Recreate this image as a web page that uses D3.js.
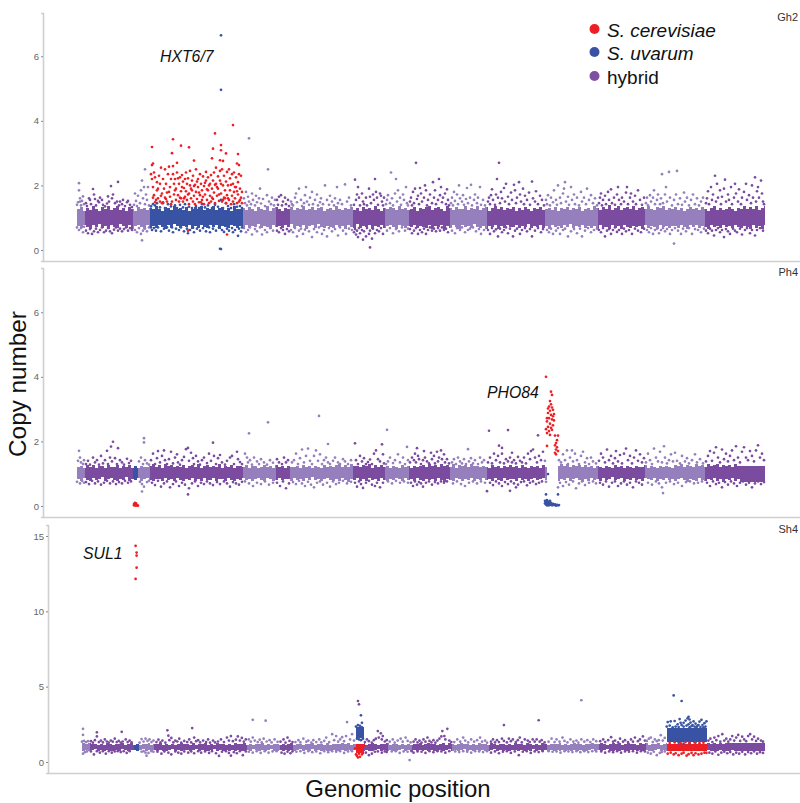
<!DOCTYPE html>
<html><head><meta charset="utf-8">
<script src="https://cdn.jsdelivr.net/npm/d3@7"></script>
<style>html,body{margin:0;padding:0;background:#fff}svg{display:block;font-family:"Liberation Sans",Arial,sans-serif}</style>
</head><body><svg id="c" width="800" height="803"></svg>
<script>
// Genomic position is in bins along the concatenated chromosomes; copy number is the value.
const chromStarts=[0,8,56,73,166,199,213,276,308,332,373,410,468,521,568,628];
const yTicksA=[0,2,4,6], yTicksC=[0,5,10,15];
const panelNames=["Gh2","Ph4","Sh4"];
const geneLabels=["HXT6/7","PHO84","SUL1"];
const legendLabels=["S. cerevisiae","S. uvarum","hybrid"];
// Estimated edges of the unresolvable dense core, copy number x100, one value per 3 bins
const gh2Hi=[128,134,122,130,125,136,127,121,132,126,135,123,129,137,124,131,120,133,127,122,134,126,130,123,
131,126,135,128,122,133,129,124,136,127,130,125,134,121,128,132,126,137,123,130,127,135,124,129,133,125,131,122,136,128,126,
130,123,134,127,121,132,128,125,135,122,129,133,126,120,131,127,134,124,130,126,136,123,128,132,125,129,134,122,127,131,124,
135,128,123,130,126,133,125,129,121,134,127,131,124,136,128,122,130,126,133,129,123,135,127,131,125,128,134,122,130,126,
132,137,125,129,134,127,122,136,130,124,133,128,126,135,123,131,127,137,125,130,133,122,129,135,126,132,124,130,127,134,
121,129,125,133,127,122,131,126,134,123,128,130,125,132,121,129,127,134,124,130,126,133,122,128,131,125,
136,129,124,133,127,138,125,131,135,123,129,134,127,137,124,130,132,126,135,128,123,133,129,136,125,131,127,134,
125,131,122,128,134,126,130,123,132,127,121,129,135,125,131,123,128,133,126,122,130,127,
137,126,132,128,135,124,130,136,127,133,125,131,138,126,129,134,127,132,124,136];
const gh2Lo=[74,68,78,72,66,76,70,82,68,74,64,78,71,67,80,73,69,76,66,74,79,70,65,77,
70,74,68,78,72,66,76,69,80,73,67,75,71,78,65,74,69,77,72,68,76,70,79,66,74,71,67,78,73,69,75,
70,78,67,74,71,80,68,75,72,66,78,70,74,68,76,72,81,67,74,70,78,66,73,76,69,80,71,68,75,72,
67,78,70,74,66,77,72,69,80,68,75,71,78,66,73,70,76,68,74,79,71,66,77,73,69,75,70,78,67,74,
71,68,76,66,74,70,78,65,73,69,76,72,66,78,70,74,67,80,71,68,75,66,73,70,77,65,74,69,76,72,
70,78,67,74,71,80,68,75,72,77,69,74,66,78,71,73,68,76,70,80,67,74,72,78,69,75,
68,74,65,78,70,72,66,76,69,74,64,78,71,67,75,70,73,66,77,69,74,71,65,78,70,73,67,75,
74,68,78,71,66,76,70,79,68,74,72,66,78,70,73,67,76,71,74,68,78,70,
67,74,70,65,78,69,73,66,76,71,68,74,64,78,70,73,66,76,69,72];
const ph4Hi=[120,124,118,126,121,127,119,123,125,118,128,122,120,126,117,124,121,127,119,123,118,125,122,120,
124,129,121,126,118,130,123,127,120,125,122,128,119,124,126,121,129,118,123,127,120,125,122,131,119,124,121,127,118,125,123,
120,126,119,123,125,117,122,127,120,124,118,126,121,123,119,125,122,120,124,117,126,121,123,119,125,122,118,127,120,124,121,
126,130,122,127,120,129,124,125,121,128,123,131,119,126,122,128,120,124,118,125,122,119,126,121,123,118,125,120,124,
128,121,131,124,126,120,129,123,127,122,130,119,126,124,128,121,130,123,125,120,124,122,118,126,121,125,119,123,122,127,
120,124,118,126,122,119,125,121,123,118,126,120,124,122,130,125,129,123,131,121,127,124,128,122,126,120,
123,118,125,121,119,124,122,118,126,120,123,119,125,121,118,124,122,120,126,119,123,121,118,125,120,124,122,119,
127,123,129,121,128,125,122,130,124,127,120,129,123,126,131,122,128,124,127,121,130,125];
const ph4Lo=[84,78,88,82,76,86,80,84,90,79,83,87,81,77,85,82,89,78,84,80,86,79,83,88,
81,77,85,83,79,87,80,84,76,88,82,78,85,81,87,79,84,77,86,82,80,88,78,83,85,79,87,81,76,84,82,
88,80,85,78,83,87,81,79,86,84,77,82,88,80,85,83,79,87,81,84,78,86,82,89,80,85,78,83,87,81,
79,84,77,86,82,75,85,80,88,78,83,76,86,81,84,79,87,82,77,85,80,88,83,79,86,81,84,78,87,82,
76,85,80,84,78,87,82,75,85,81,79,86,83,77,84,80,88,78,85,82,88,80,84,79,86,82,78,87,81,85,
83,78,87,81,85,79,84,88,80,83,86,81,78,85,82,76,84,80,87,78,83,86,81,75,84,79,
88,82,85,79,87,81,84,89,80,83,86,78,85,82,88,80,84,79,87,83,81,86,78,85,82,88,80,84,
77,83,86,80,75,85,81,78,86,82,76,84,80,87,79,83,75,85,81,86,78,84];
const sh4Hi=[128,122,125,118,122,116,120,114,124,118,115,121,117,125,113,119,123,116,120,114,122,118,126,115,
121,117,124,113,119,116,122,114,120,125,117,119,115,123,113,121,118,126,114,120,116,124,117,119,113,122,115,127,118,120,125,
116,122,113,119,117,124,115,120,114,122,118,113,121,116,119,124,114,120,117,113,122,118,125,115,119,121,116,123,114,120,117,
122,126,118,124,115,121,128,117,123,116,120,125,119,114,122,117,124,115,121,118,113,120,116,122,114,119,117,123,115,
121,125,117,122,114,120,127,116,123,118,115,121,124,117,119,114,122,116,125,118,120,115,123,117,114,121,119,116,122,113,
124,117,120,115,123,118,114,121,116,125,119,115,122,117,120,124,116,121,114,119,126,117,122,115,120,118,
123,117,121,126,119,115,122,128,118,124,116,120,125,117,122,115,127,119,123,116,121,118,126,115,120,124,117,122,
119,125,121,128,116,123,119,126,118,122,116,127,120,124,117,123,119,125];
const sh4Lo=[74,80,72,78,84,76,80,74,82,76,72,80,75,83,78,74,81,77,72,79,84,75,80,73,
78,74,82,76,72,80,85,75,79,73,81,77,72,78,84,74,80,76,71,79,83,75,77,72,81,74,78,70,82,76,73,
80,75,83,77,72,81,74,78,84,76,71,79,73,82,75,80,72,78,84,74,80,76,83,72,78,74,81,76,71,79,75,
70,78,72,82,75,80,68,77,73,81,75,70,78,84,72,79,74,80,76,72,78,83,74,80,76,82,72,78,75,
79,74,82,70,76,80,72,78,84,74,79,71,77,83,75,80,72,78,74,81,76,72,79,84,73,78,75,81,72,77,
82,75,79,73,81,76,84,74,78,72,80,76,82,73,79,70,77,74,80,71,78,74,82,72,76,79,
84,74,80,72,78,83,75,70,79,73,81,76,71,78,82,74,79,72,80,75,70,77,83,73,79,75,81,72,
78,72,76,70,80,74,72,78,70,76,73,80,71,75,70,78,73,76,71,79,74,72];
// Rows of the core: start bin, end bin, strain, and own copy-number range where the strain block is not on the shared edges
const gh2Rows=[[0,73,"h"],[73,166,"b"],[166,688,"h"]];
const ph4Rows=[[0,56,"h"],[56,61,"b"],[61,470,"h"],[481,688,"h"]];
const sh4Rows=[[0,52,"h"],[52,57,"b"],[57,276,"h"],[276,284,"b",1.62,2.3],[276,284,"r",.62,1.2],[284,589,"h"],[589,630,"b",1.32,2.25],[589,630,"r",.7,1.22],[630,688,"h"]];
const gh2Hybrid=[[0,1.4],[1,1.48],[2,2.07],[2,1.85],[3,1.6],[3,1.5],[4,1.38],[5,1.52],[6,1.66],[7,1.42],[0,.7],[2,.62],[4,.68],[6,.55],[7,.72],
[9,1.45],[10,1.36],[12,1.6],[13,1.55],[14,1.42],[16,1.89],[17,1.72],[18,1.58],[19,1.38],[21,1.52],[22,1.48],[23,1.62],[25,1.55],[26,1.4],[28,1.35],[30,1.44],[31,1.66],[32,1.5],[34,1.98],[35,1.6],[36,1.72],[38,1.45],[40,1.5],[41,2.11],[42,1.38],[43,1.5],[45,1.42],[46,1.55],[48,1.36],[50,1.48],[51,1.52],[53,1.4],[55,1.33],
[9,.6],[11,.52],[13,.65],[15,.5],[17,.58],[19,.66],[21,.55],[23,.62],[25,.7],[27,.55],[29,.6],[31,.68],[33,.58],[35,.52],[37,.63],[39,.7],[41,.6],[43,.66],[45,.58],[47,.65],[49,.7],[51,.6],[53,.68],[55,.62],
[57,1.4],[58,1.75],[59,1.52],[60,1.36],[61,1.68],[63,1.45],[64,1.85],[65,2.15],[66,1.6],[67,1.95],[68,2.5],[68,1.42],[69,1.72],[70,1.55],[71,1.95],[72,1.38],[58,.62],[60,.55],[62,.68],[64,.5],[65,.3],[66,.6],[68,.66],[70,.58],[72,.7],
[172,3.46],[167,1.6],[168,1.45],[169,1.8],[170,1.38],[171,1.65],[172,1.5],[174,1.42],[175,1.75],[176,1.55],[178,1.38],[179,1.68],[180,1.48],[182,1.6],[183,1.9],[184,1.44],[186,1.58],[188,1.36],[190,1.7],[191,2.5],[192,1.5],[194,1.42],[195,1.62],[197,1.38],[198,1.55],
[167,.68],[169,.55],[171,.62],[173,.7],[175,.48],[178,.65],[180,.58],[183,.7],[185,.48],[188,.62],[190,.55],[193,.68],[196,.6],
[200,1.55],[201,1.4],[202,1.65],[204,1.7],[205,1.38],[206,1.5],[208,1.62],[209,1.42],[211,1.55],[212,1.36],[200,.6],[202,.55],[204,.68],[206,.62],[208,.5],[210,.65],[212,.58],
[214,1.5],[215,1.42],[216,1.38],[218,1.62],[219,1.75],[220,1.48],[222,1.9],[224,1.55],[225,1.36],[227,1.45],[228,1.7],[229,1.95],[230,1.5],[232,1.4],[233,1.62],[235,1.8],[236,1.42],[238,1.55],[240,1.72],[241,1.38],[243,1.48],[244,1.6],[246,1.42],[248,2],[250,1.55],[252,1.4],[253,1.68],[255,1.5],[257,1.38],[258,1.6],[260,1.95],[261,1.45],[263,1.55],[265,1.42],[268,2.03],[270,1.5],[272,1.62],[274,1.38],
[214,.62],[216,.55],[218,.68],[220,.42],[222,.6],[224,.66],[226,.5],[228,.63],[230,.7],[232,.58],[235,.4],[237,.65],[240,.55],[242,.7],[245,.5],[247,.62],[250,.42],[252,.68],[255,.58],[258,.65],[261,.45],[263,.7],[266,.6],[269,.5],[272,.66],[275,.62],
[277,1.4],[278,2.18],[279,1.55],[280,1.72],[281,1.95],[282,1.62],[283,1.38],[285,1.75],[286,1.5],[287,1.42],[289,1.62],[290,1.38],[292,1.9],[293,1.65],[294,1.45],[296,1.72],[297,1.55],[298,2.2],[299,1.8],[300,1.62],[301,1.4],[303,1.75],[304,1.68],[305,1.5],[306,1.38],[307,1.62],
[277,.55],[278,.65],[279,.48],[280,.6],[281,.4],[282,.68],[283,.52],[285,.62],[286,.32],[287,.58],[289,.42],[290,.68],[292,.5],[293,.6],[293,.08],[295,.35],[296,.66],[298,.52],[300,.62],[302,.58],[304,.68],[306,.5],
[309,1.42],[310,1.55],[311,1.7],[313,1.45],[314,2.4],[315,1.6],[316,1.38],[318,1.75],[319,2.2],[320,1.5],[321,1.85],[323,1.62],[324,1.4],[326,1.72],[327,1.55],[329,1.95],[330,1.45],[331,1.38],[310,.6],[313,.68],[316,.52],[319,.65],[322,.58],[325,.7],[328,.6],[331,.66],
[333,1.5],[334,1.62],[335,1.38],[336,1.8],[337,1.45],[338,1.9],[339,2.7],[340,1.58],[341,1.68],[342,1.42],[343,1.92],[344,1.75],[345,1.5],[347,1.62],[348,2.0],[349,1.85],[350,1.38],[351,1.55],[353,1.72],[355,1.45],[356,2.1],[357,1.62],[358,1.85],[359,1.42],[361,1.55],[362,2.2],[363,1.7],[364,1.95],[365,1.48],[366,1.62],[368,1.75],[369,1.42],[370,1.88],[371,1.55],[372,1.38],
[333,.65],[335,.52],[337,.6],[339,.68],[341,.5],[343,.62],[345,.55],[347,.66],[349,.5],[351,.62],[353,.7],[355,.6],[357,.66],[359,.58],[361,.68],[363,.6],[365,.7],[367,.62],[369,.66],[371,.55],
[374,1.45],[375,1.62],[376,1.38],[377,1.8],[378,1.52],[380,1.72],[381,1.42],[382,2.0],[383,1.6],[385,1.5],[386,1.7],[387,1.4],[389,1.58],[390,1.92],[391,1.45],[393,1.62],[394,2.02],[395,1.38],[397,1.55],[398,1.72],[400,1.45],[401,1.62],[403,1.95],[404,1.4],[406,1.55],[408,1.38],
[375,.6],[378,.52],[380,.68],[383,.62],[385,.7],[388,.55],[391,.62],[393,.66],[396,.7],[399,.58],[402,.65],[404,.5],[407,.62],
[411,1.5],[412,1.62],[413,1.42],[414,1.7],[415,1.88],[416,1.55],[418,1.4],[419,1.72],[420,2.2],[421,1.62],[422,2.7],[423,1.45],[424,1.8],[425,1.6],[427,1.92],[428,1.5],[429,2.05],[431,1.65],[432,1.42],[434,1.78],[435,1.55],[437,2.02],[438,1.85],[439,1.45],[440,1.62],[442,2.1],[443,1.72],[444,1.5],[446,1.9],[447,1.42],[448,1.68],[450,1.55],[452,1.78],[453,1.4],[455,2.12],[456,1.6],[458,1.5],[459,1.82],[461,1.42],[463,1.68],[465,1.55],[467,1.38],
[411,.62],[413,.5],[415,.68],[417,.58],[419,.64],[421,.42],[423,.66],[425,.55],[427,.62],[429,.7],[431,.52],[433,.66],[436,.42],[438,.6],[440,.66],[443,.5],[445,.62],[448,.68],[450,.58],[453,.65],[455,.42],[458,.6],[461,.68],[464,.55],[466,.65],
[469,1.55],[470,1.42],[471,1.7],[473,1.38],[474,1.62],[476,1.48],[477,1.85],[479,1.55],[480,1.4],[481,2.0],[483,1.62],[484,1.45],[486,1.75],[487,1.9],[488,2.1],[489,1.5],[491,1.65],[492,1.4],[494,1.95],[495,1.55],[497,1.72],[498,1.42],[500,1.62],[502,1.38],[504,1.8],[505,1.5],[507,1.62],[509,1.42],[510,1.9],[512,1.55],[514,1.7],[516,1.45],[518,1.6],[520,1.38],
[470,.62],[472,.55],[474,.66],[476,.5],[479,.6],[481,.68],[483,.5],[486,.62],[488,.66],[491,.42],[494,.58],[497,.65],[500,.52],[503,.66],[505,.42],[508,.6],[511,.68],[514,.55],[517,.62],[520,.66],
[522,1.45],[523,1.62],[524,1.75],[525,1.38],[526,1.55],[528,1.68],[529,1.42],[531,1.8],[532,1.55],[534,1.88],[535,1.45],[537,1.62],[538,1.4],[540,1.72],[541,1.95],[542,1.55],[544,1.42],[545,1.62],[547,1.5],[549,1.78],[550,1.95],[551,1.42],[553,1.62],[554,1.75],[556,1.5],[558,1.68],[559,1.42],[561,1.85],[563,1.55],[565,1.4],[567,1.62],
[522,.62],[524,.55],[526,.68],[528,.42],[530,.6],[532,.65],[534,.5],[536,.62],[538,.7],[540,.56],[542,.62],[545,.5],[547,.66],[549,.58],[552,.62],[555,.5],[558,.66],[561,.6],[564,.55],[567,.66],
[569,1.45],[570,1.62],[571,1.38],[573,1.7],[574,1.5],[576,1.62],[577,1.85],[578,1.42],[580,1.55],[581,1.72],[583,1.42],[584,1.6],[585,2.35],[586,1.45],[588,1.72],[589,1.95],[590,1.5],[592,2.42],[593,1.62],[595,1.38],[597,1.55],[599,1.72],[600,2.45],[601,1.42],[603,1.6],[605,1.4],[607,1.78],[608,1.5],[610,1.62],[612,1.38],[614,1.55],[616,1.72],[618,1.42],[620,1.6],[622,1.38],[624,1.5],[626,1.62],
[570,.62],[572,.55],[574,.68],[576,.5],[578,.62],[580,.66],[582,.52],[584,.62],[586,.68],[588,.58],[590,.65],[593,.5],[595,.62],[597,.2],[598,.68],[601,.6],[604,.5],[606,.66],[609,.58],[612,.68],[615,.5],[618,.65],[621,.62],[624,.55],[627,.66],
[629,1.45],[630,1.6],[631,1.82],[632,1.42],[634,1.95],[635,1.55],[636,1.72],[638,2.3],[639,1.5],[640,2.05],[641,1.62],[643,1.85],[644,1.42],[645,1.65],[647,1.9],[648,2.18],[649,1.5],[651,1.72],[652,1.55],[654,1.95],[655,1.42],[657,1.62],[658,2.05],[659,1.75],[661,1.5],[662,1.88],[664,1.42],[665,1.62],[667,1.8],[669,2.05],[670,1.55],[672,1.7],[674,1.45],[675,2.0],[676,1.62],[678,2.25],[679,1.5],[680,1.82],[681,1.95],[682,1.62],[684,2.15],[685,1.75],[686,1.5],[687,1.42],
[629,.6],[631,.52],[633,.66],[635,.6],[637,.45],[639,.62],[641,.68],[643,.55],[645,.62],[647,.4],[649,.65],[651,.58],[653,.5],[656,.66],[658,.6],[660,.55],[663,.66],[665,.48],[668,.62],[670,.68],[673,.52],[675,.62],[678,.45],[680,.62],[683,.68],[686,.6]];
const gh2Red=[[75,3.19],[95,3],[96,3.43],[104,3.23],[112,3.18],[117,2.77],[138,3.61],[156,3.87],[144,3.25],[136,3.14],[144,3.09],[149,2.99],[135,2.84],[143,2.78],[146,2.76],[161,2.97],[160,2.68],[162,2.63],[76,2.68],[75,2.63],[111,.6],[150,.48],
[74,2.35],[75,2.2],[76,1.95],[77,2.4],[77,1.7],[78,2.25],[79,1.55],[80,2.1],[80,1.85],[81,1.6],[82,2.3],[83,2.05],[83,1.5],[84,2.55],[85,1.75],[85,1.45],[86,2.2],[87,1.9],[88,1.62],[88,2.5],[89,2.05],[90,1.78],[90,1.5],[91,2.35],[92,2.58],[93,1.95],[93,1.65],[94,2.2],[95,1.5],[96,2.6],[96,2.35],[97,2.05],[97,1.72],[98,2.2],[99,1.55],[99,1.9],[100,2.7],[100,2.4],[101,1.7],[102,2.05],[102,1.5],[103,2.25],[104,1.82],[104,1.6],[105,2.32],[106,2.12],[106,1.5],[107,1.92],[108,2.2],[108,1.65],[109,1.82],[109,2.4],[110,2.05],[110,1.55],[111,2.22],[112,1.75],[112,1.42],[113,2],[113,2.45],[114,1.6],[115,2.15],[115,1.85],[116,1.5],[116,2.3],[117,1.68],[118,2.02],[118,1.42],[119,2.5],[119,1.8],[120,1.58],[121,2.2],[121,1.95],[122,1.48],[123,2.35],[123,1.7],[124,2.05],[125,1.55],[125,1.85],[126,2.28],[127,1.42],[127,1.98],[128,1.72],[129,2.15],[129,2.42],[130,1.55],[131,2.25],[131,1.85],[132,1.45],[133,2.05],[133,1.68],[134,2.32],[134,1.5],[135,1.9],[136,2.15],[136,1.58],[137,2.4],[137,1.78],[138,1.45],[139,2.55],[139,2.05],[140,1.68],[141,2.28],[141,1.9],[142,1.52],[143,2.45],[143,2.15],[144,1.75],[145,2.5],[145,1.5],[146,2],[147,2.3],[147,1.62],[148,1.85],[149,2.12],[149,1.45],[150,2.42],[150,1.7],[151,2],[152,2.5],[152,1.55],[153,2.22],[153,1.85],[154,1.42],[155,2.35],[155,1.68],[156,2.05],[156,1.5],[157,2.4],[157,1.8],[158,1.6],[159,2.25],[159,1.95],[160,1.45],[161,2.1],[161,1.72],[162,2.35],[163,1.55],[163,1.9],[164,2.3],[164,1.62],[165,1.45],[165,1.8],[76,1.62],[78,1.48],[81,1.9],[84,1.68],[86,1.45],[89,1.58],[92,1.8],[94,1.42],[98,1.85],[101,2.22],[103,1.62],[105,1.95],[107,1.6],[111,1.72],[114,1.9],[117,1.98],[120,2.12],[122,1.78],[124,1.48],[126,1.65],[128,2.08],[130,1.88],[132,2.0],[135,1.62],[138,2.02],[140,1.95],[142,1.72],[144,2.05],[146,1.55],[148,1.6],[151,1.6],[154,2.02],[158,1.95],[160,1.82],[162,1.5]];
const gh2Blue=[[144,6.65],[144,4.96],[143,.04],[144,.03],[74,.7],[74,1.35],[75,.62],[76,1.42],[77,.68],[78,1.38],[79,.6],[80,1.45],[81,.7],[83,1.32],[84,.58],[86,1.48],[87,.66],[88,1.3],[90,.7],[91,1.42],[92,.6],[94,1.35],[95,.7],[96,.55],[98,1.38],[99,.66],[100,1.3],[102,.62],[103,1.4],[104,.7],[106,1.32],[107,.58],[108,1.42],[110,.66],[111,.52],[112,1.34],[113,.62],[115,1.3],[116,.7],[117,.55],[119,1.36],[120,.66],[122,1.3],[123,.6],[125,1.42],[126,.68],[128,1.32],[129,.58],[131,1.38],[132,.7],[133,.55],[135,1.3],[136,.66],[138,1.4],[139,.6],[141,1.34],[142,.7],[144,1.55],[145,.62],[146,1.3],[147,.56],[149,1.45],[150,.66],[151,1.36],[152,.6],[154,1.3],[155,.68],[156,.55],[157,1.42],[158,.62],[160,1.34],[161,.44],[162,.66],[163,1.36],[164,.58],[165,.7],[165,1.3]];
const ph4Hybrid=[[2,1.71],[1,1.4],[3,1.5],[4,1.35],[6,1.3],[7,1.42],[0,.75],[3,.7],[5,.78],[7,.72],[36,1.99],[30,1.71],[34,1.84],[41,1.79],[9,1.3],[11,1.4],[13,1.28],[16,1.5],[18,1.35],[20,1.42],[22,1.28],[24,1.55],[26,1.32],[28,1.42],[31,1.3],[33,1.5],[35,1.38],[38,1.48],[40,1.3],[43,1.42],[45,1.35],[47,1.28],[50,1.46],[52,1.33],[54,1.4],[9,.74],[12,.68],[15,.78],[18,.7],[21,.76],[24,.66],[27,.72],[30,.78],[33,.7],[36,.76],[39,.68],[42,.74],[45,.7],[48,.78],[51,.72],[54,.76],
[67,2.1],[67,1.97],[65,.45],[62,1.38],[64,1.5],[66,1.3],[68,1.42],[70,1.32],[72,1.28],[63,.75],[65,.68],[67,.6],[70,.74],[72,.78],[74,1.42],[76,1.62],[78,1.3],[80,1.48],[81,1.7],[83,1.35],[85,1.55],[87,1.72],[88,1.42],[90,1.3],[92,1.45],[94,1.68],[96,1.32],[98,1.5],[100,1.6],[101,1.35],[103,1.28],[105,1.42],[107,1.52],[109,1.76],[111,1.8],[112,1.4],[114,1.65],[116,1.48],[117,1.3],[119,1.55],[121,1.38],[123,1.28],[125,1.42],[127,1.5],[130,1.33],[132,1.62],[134,1.4],[136,1.96],[137,1.55],[139,1.3],[141,1.48],[143,1.58],[145,1.35],[148,1.28],[150,1.4],[153,1.5],[155,1.55],[157,1.3],[160,1.68],[161,1.45],[163,1.36],[165,1.3],[75,.72],[78,.65],[81,.78],[84,.6],[87,.7],[90,.76],[93,.58],[96,.68],[99,.76],[102,.62],[105,.72],[108,.66],[111,.36],[112,.55],[115,.7],[118,.76],[121,.62],[124,.72],[127,.68],[130,.76],[133,.7],[136,.65],[140,.74],[143,.68],[147,.76],[150,.7],[153,.6],[156,.74],[159,.7],[162,.66],[165,.75],
[172,2.25],[191,2.59],[168,1.62],[170,1.5],[171,1.35],[173,1.42],[175,1.28],[177,1.5],[180,1.38],[182,1.3],[184,1.45],[187,1.35],[190,1.28],[193,1.42],[196,1.34],[168,.76],[172,.7],[176,.62],[180,.72],[184,.68],[188,.76],[192,.66],[196,.72],
[200,1.45],[202,1.35],[205,1.3],[207,1.5],[209,1.35],[211,1.42],[200,.72],[203,.62],[206,.76],[209,.55],[212,.7],
[242,2.79],[278,1.94],[305,1.91],[251,1.92],[215,1.35],[217,1.42],[219,1.62],[221,1.3],[223,1.48],[225,1.75],[227,1.35],[229,1.55],[231,1.78],[233,1.4],[235,1.3],[237,1.55],[239,1.72],[241,1.4],[243,1.6],[245,1.3],[247,1.42],[249,1.5],[251,1.35],[253,1.3],[256,1.4],[258,1.5],[261,1.35],[263,1.3],[266,1.45],[268,1.38],[271,1.3],[274,1.42],[216,.74],[219,.68],[222,.78],[225,.7],[228,.62],[231,.75],[234,.66],[237,.58],[240,.72],[243,.76],[246,.66],[250,.72],[253,.6],[256,.76],[259,.68],[262,.72],[266,.78],[270,.7],[274,.75],
[310,2.36],[330,1.83],[279,1.42],[281,1.3],[283,1.55],[285,1.38],[287,1.48],[289,1.3],[291,1.36],[293,1.44],[295,1.3],[297,1.62],[299,1.72],[301,1.45],[303,1.38],[306,1.6],[307,1.32],[278,.72],[280,.6],[282,.76],[284,.68],[286,.56],[289,.72],[292,.78],[295,.66],[298,.62],[300,.72],[303,.58],[306,.72],
[309,1.3],[311,1.38],[313,1.5],[316,1.33],[318,1.42],[321,1.6],[323,1.35],[326,1.5],[328,1.3],[331,1.42],[311,.76],[315,.7],[319,.78],[323,.72],[327,.76],[331,.72],
[340,1.79],[333,1.35],[335,1.5],[337,1.42],[338,1.62],[339,1.35],[341,1.55],[342,1.45],[344,1.3],[346,1.42],[347,1.7],[348,1.5],[350,1.38],[352,1.32],[354,1.65],[355,1.45],[357,1.55],[358,1.32],[360,1.68],[361,1.38],[362,1.5],[364,1.72],[365,1.45],[367,1.6],[368,1.35],[370,1.45],[372,1.32],[334,.72],[336,.62],[338,.76],[340,.66],[342,.74],[344,.7],[346,.6],[349,.72],[352,.76],[355,.66],[358,.74],[361,.7],[364,.76],[367,.72],[370,.76],
[391,1.76],[375,1.35],[377,1.45],[379,1.3],[381,1.5],[383,1.38],[385,1.32],[387,1.45],[389,1.3],[392,1.38],[394,1.48],[396,1.32],[398,1.42],[401,1.3],[403,1.5],[405,1.35],[407,1.42],[376,.7],[380,.76],[384,.68],[388,.62],[392,.72],[396,.76],[400,.7],[404,.76],[408,.72],
[412,2.33],[431,2.35],[461,2.19],[422,1.87],[425,1.8],[435,1.65],[410,.46],[433,.47],[439,.58],[411,1.35],[413,1.5],[415,1.32],[417,1.62],[419,1.42],[421,1.55],[423,1.35],[425,1.62],[427,1.32],[429,1.45],[431,1.38],[433,1.5],[435,1.35],[437,1.42],[439,1.32],[441,1.52],[443,1.4],[445,1.35],[447,1.5],[449,1.32],[451,1.62],[453,1.45],[454,1.7],[456,1.75],[458,1.5],[460,1.35],[462,1.55],[464,1.42],[466,1.68],[468,1.4],[413,.72],[416,.65],[419,.76],[422,.7],[425,.62],[428,.74],[431,.68],[434,.76],[437,.7],[441,.66],[444,.74],[447,.76],[450,.64],[453,.72],[456,.76],[459,.68],[462,.72],[465,.76],[469,.75],
[481,.58],[482,1.42],[484,1.35],[486,1.6],[488,1.42],[490,1.72],[491,1.3],[493,1.5],[495,1.72],[496,1.38],[498,1.62],[500,1.42],[502,1.3],[504,1.55],[506,1.68],[508,1.35],[510,1.48],[512,1.3],[514,1.5],[516,1.38],[519,1.32],[483,.72],[486,.62],[489,.74],[492,.66],[496,.76],[499,.55],[502,.7],[505,.76],[508,.65],[512,.72],[516,.76],[519,.7],
[522,1.4],[524,1.62],[526,1.5],[528,1.35],[530,1.75],[532,1.42],[534,1.55],[536,1.32],[538,1.48],[539,1.7],[541,1.38],[543,1.58],[545,1.32],[547,1.62],[549,1.78],[551,1.42],[553,1.55],[555,1.32],[557,1.5],[559,1.72],[561,1.4],[563,1.6],[565,1.35],[567,1.48],[523,.72],[526,.66],[529,.76],[532,.6],[535,.72],[538,.76],[541,.62],[544,.7],[547,.76],[550,.66],[553,.72],[556,.58],[559,.76],[562,.72],[565,.66],
[569,1.35],[571,1.62],[573,1.42],[575,1.3],[577,1.78],[579,1.5],[581,1.38],[583,1.68],[585,1.35],[587,1.85],[588,1.5],[590,1.32],[592,1.42],[594,1.6],[596,1.38],[598,1.65],[600,1.4],[603,1.32],[605,1.55],[608,1.38],[610,1.48],[612,1.32],[615,1.42],[618,1.6],[620,1.35],[623,1.45],[626,1.32],[571,.72],[575,.66],[579,.76],[582,.7],[585,.58],[586,.4],[589,.72],[593,.76],[597,.68],[601,.72],[605,.62],[609,.74],[613,.76],[617,.7],[621,.72],[625,.76],
[629,1.38],[631,1.55],[633,1.7],[635,1.4],[637,1.65],[639,1.82],[641,1.5],[643,1.35],[645,1.75],[647,1.45],[649,1.62],[651,1.38],[653,1.55],[655,1.72],[657,1.42],[659,1.85],[661,1.5],[663,1.35],[665,1.68],[667,1.82],[669,1.5],[671,1.42],[673,1.7],[675,1.55],[677,1.38],[679,1.72],[681,1.88],[683,1.5],[685,1.62],[687,1.42],[630,.72],[633,.62],[636,.76],[639,.68],[642,.72],[645,.58],[648,.74],[651,.66],[654,.76],[657,.7],[660,.62],[663,.72],[666,.76],[669,.66],[672,.72],[675,.58],[678,.7],[681,.76],[684,.68],[687,.74]];
const ph4Red=[[469,4],[474,3.54],[475,3.44],[470,1.86],[473,3.25],[474,3.15],[472,3.08],[475,3.05],[473,2.95],[476,2.98],[471,2.88],[474,2.82],[476,2.78],[472,2.72],[475,2.68],[470,2.62],[473,2.55],[476,2.5],[471,2.45],[474,2.42],[469,2.38],[472,2.32],[470,2.26],[473,2.2],[475,2.36],[477,2.85],[477,2.65],[471,3.02],[470,2.72],[478,2.18],[481,2.18],[480,2.04],[479,1.95],[478,1.88],[480,1.82],[479,1.75],[481,1.7],[478,1.65],[479,1.6],[58,.1],[57,.06],[59,.08],[58,.03],[60,.03],[59,.01],[61,.01],[57,.02]];
const ph4Blue=[[469,.36],[481,.36],[471,.99],[468,.16],[469,.12],[470,.18],[469,.05],[470,.08],[471,.14],[471,.03],[472,.09],[473,.16],[473,.04],[474,.1],[475,.02],[476,.07],[477,.03],[478,.05],[479,.01],[480,.04],[481,.02],[482,.03],[468,.08],[470,.02],[472,.02],[474,.04]];
const sh4Hybrid=[[1,2.2],[15,1.97],[40,2],[86,2.1],[111,2.25],[172,2.8],[185,2.74],[1,1.8],[0,1.35],[2,1.4],[4,1.32],[6,1.38],[1,.55],[3,.65],[5,.7],[9,1.38],[11,1.28],[13,1.45],[15,1.7],[17,1.32],[19,1.42],[21,1.3],[23,1.5],[25,1.36],[27,1.28],[29,1.42],[31,1.35],[33,1.55],[35,1.32],[37,1.4],[39,1.28],[41,1.36],[44,1.5],[46,1.32],[48,1.42],[50,1.3],[9,.7],[12,.5],[15,.72],[18,.62],[21,.72],[24,.55],[27,.72],[30,.62],[33,.7],[36,.72],[39,.66],[42,.72],[45,.6],[48,.72],
[58,1.28],[60,1.52],[62,1.36],[64,1.55],[66,1.4],[68,1.5],[70,1.32],[72,1.42],[60,.68],[62,.72],[64,.62],[65,.42],[67,.6],[70,.72],[72,.68],[75,1.32],[77,1.48],[79,1.3],[81,1.42],[84,1.28],[87,1.75],[88,1.45],[90,1.6],[92,1.3],[94,1.42],[96,1.36],[98,1.55],[100,1.28],[103,1.4],[106,1.32],[108,1.5],[110,1.3],[113,1.62],[115,1.38],[117,1.45],[119,1.3],[122,1.42],[125,1.32],[127,1.5],[129,1.28],[132,1.42],[134,1.3],[137,1.36],[140,1.5],[143,1.32],[146,1.62],[148,1.42],[150,1.72],[152,1.38],[155,1.48],[157,1.7],[159,1.42],[161,1.6],[163,1.35],[165,1.5],[76,.68],[80,.55],[83,.7],[87,.62],[90,.5],[94,.7],[97,.62],[100,.55],[103,.7],[107,.62],[110,.7],[113,.58],[117,.72],[120,.62],[124,.7],[128,.6],[131,.72],[135,.58],[138,.4],[141,.68],[145,.72],[148,.6],[150,.42],[153,.65],[156,.58],[159,.72],[162,.45],[165,.7],
[168,1.5],[170,1.35],[172,1.62],[174,1.42],[177,1.32],[179,1.48],[181,1.3],[183,1.55],[186,1.36],[189,1.45],[191,1.3],[194,1.5],[197,1.34],[168,.68],[172,.62],[176,.72],[180,.6],[184,.72],[188,.62],[192,.7],[196,.72],[200,1.35],[203,1.5],[205,1.28],[207,1.62],[209,1.4],[212,1.32],[201,.62],[204,.55],[207,.68],[210,.58],[212,.7],
[215,1.32],[218,1.45],[220,1.3],[223,1.55],[226,1.35],[228,1.42],[231,1.28],[233,1.45],[236,1.32],[239,1.5],[241,1.3],[244,1.4],[246,1.62],[249,1.32],[252,1.85],[254,1.45],[256,1.72],[258,1.35],[260,1.5],[262,1.65],[264,1.38],[267,2.65],[266,1.72],[270,1.5],[272,1.85],[274,1.42],[216,.68],[220,.72],[224,.6],[228,.72],[232,.65],[236,.7],[240,.58],[244,.72],[248,.65],[252,.72],[256,.68],[260,.72],[264,.6],[268,.7],[272,.72],
[278,4.05],[279,3.83],[285,1.32],[287,1.5],[289,1.38],[292,1.28],[294,1.45],[296,1.55],[298,2.05],[299,1.62],[301,1.9],[302,1.5],[303,1.72],[305,1.36],[307,1.45],[286,.62],[289,.45],[292,.55],[295,.68],[298,.7],[302,.62],[305,.7],[307,.66],
[310,1.35],[313,1.5],[315,1.28],[318,1.42],[321,1.55],[323,1.35],[326,1.62],[328,1.4],[331,1.3],[330,.13],[312,.7],[316,.72],[320,.6],[324,.7],[328,.68],[332,.72],
[334,1.35],[336,1.5],[338,1.3],[340,1.42],[342,1.28],[344,1.5],[346,1.35],[348,1.62],[350,1.4],[352,1.3],[354,1.45],[356,1.28],[358,1.42],[360,1.55],[363,2.05],[362,1.7],[365,1.72],[368,2.2],[366,1.5],[370,1.42],[372,1.32],[334,.62],[338,.7],[342,.68],[346,.6],[350,.72],[354,.65],[358,.72],[362,.7],[366,.62],[370,.72],
[375,1.32],[378,1.5],[381,1.35],[384,1.62],[386,1.42],[389,1.3],[392,1.5],[395,1.35],[398,1.45],[401,1.62],[403,1.35],[406,1.42],[408,1.28],[376,.7],[380,.66],[384,.72],[388,.68],[392,.62],[396,.72],[400,.7],[404,.66],[408,.72],
[425,2.45],[460,2.77],[412,1.35],[414,1.5],[416,1.3],[418,1.45],[420,1.32],[423,1.55],[425,1.4],[428,1.3],[430,1.55],[432,1.38],[434,1.5],[437,1.32],[439,1.45],[441,1.62],[443,1.3],[446,1.5],[449,1.42],[451,1.32],[454,1.5],[456,1.35],[458,1.5],[461,1.35],[463,1.45],[466,1.3],[412,.62],[416,.7],[420,.58],[424,.68],[428,.72],[432,.6],[436,.7],[440,.45],[444,.68],[448,.72],[452,.6],[456,.7],[460,.66],[464,.72],
[503,4.1],[470,1.35],[473,1.55],[476,1.32],[478,1.5],[481,1.35],[484,1.62],[486,1.4],[489,1.3],[492,1.5],[495,1.35],[498,1.42],[500,1.28],[503,1.5],[506,1.35],[509,1.45],[512,1.32],[515,1.5],[518,1.38],[470,.72],[474,.68],[478,.7],[482,.62],[486,.72],[490,.7],[494,.66],[498,.72],[502,.65],[506,.72],[510,.66],[514,.72],[518,.7],
[522,1.38],[525,1.5],[527,1.32],[530,1.45],[533,1.65],[535,1.35],[537,1.42],[540,1.3],[542,1.55],[545,1.35],[547,1.45],[550,1.32],[553,1.5],[555,1.35],[557,1.62],[560,1.38],[562,1.5],[565,1.7],[567,1.42],[523,.7],[527,.62],[531,.7],[535,.65],[539,.72],[543,.62],[547,.7],[551,.68],[555,.72],[559,.62],[563,.72],[567,.7],
[569,1.4],[571,1.55],[573,1.62],[575,1.32],[577,1.5],[579,1.38],[581,1.45],[583,1.78],[585,1.42],[587,1.6],[570,.62],[573,.55],[576,.68],[579,.45],[582,.6],[584,.66],[587,.7],[631,1.42],[633,1.55],[635,1.32],[637,1.62],[639,1.45],[641,1.72],[643,1.35],[645,1.85],[647,1.42],[649,1.55],[651,1.35],[653,1.5],[655,1.72],[657,1.42],[659,1.62],[661,1.8],[663,1.4],[665,1.68],[667,1.5],[669,1.38],[671,1.72],[673,1.85],[675,1.5],[677,1.68],[679,1.4],[681,1.55],[684,1.42],[686,1.35],[632,.62],[635,.55],[638,.7],[641,.48],[644,.62],[647,.68],[650,.58],[653,.66],[656,.5],[659,.62],[662,.55],[665,.68],[668,.5],[671,.66],[674,.58],[677,.7],[680,.55],[683,.65],[686,.6]];
const sh4Red=[[54,14.35],[55,13.9],[55,13.7],[55,12.9],[54,12.15],[276,.5],[277,.4],[278,.3],[279,.55],[280,.35],[282,.5],[283,.6],[275,.9],[284,1.1],[590,.55],[593,.62],[596,.5],[598,.58],[601,.45],[604,.55],[606,.62],[609,.42],[611,.52],[614,.6],[616,.45],[618,.58],[621,.5],[624,.55],[627,.62],[629,.6],[592,1.26],[597,1.3],[603,1.25],[608,1.32],[612,1.28],[617,1.3],[622,1.25],[626,1.28]];
const sh4Blue=[[281,3.1],[282,2.6],[276,2.35],[278,2.45],[280,2.4],[282,2.3],[277,1.55],[279,1.5],[281,1.45],[283,1.55],[596,4.42],[604,4.05],[611,3],[590,2.65],[593,2.7],[597,2.72],[600,2.5],[602,2.85],[604,2.45],[606,2.6],[608,2.75],[610,2.9],[611,2.5],[612,2.82],[613,2.62],[615,2.45],[616,2.7],[618,2.55],[620,2.42],[622,2.68],[624,2.8],[625,2.45],[627,2.58],[629,2.7],[589,2.35],[592,2.42],[595,2.3],[598,2.35],[601,2.32],[603,2.6],[606,2.35],[609,2.42],[612,2.3],[614,2.38],[617,2.35],[619,2.3],[621,2.45],[623,2.32],[626,2.3],[628,2.35],[601,1.28],[606,1.22],[612,1.25],[618,1.28]];

const svg=d3.select("#c");
const colors={r:"#ed1f24",b:"#3953a4",dark:"#7b4b9f",light:"#9580bd",legendHybrid:"#7d50a2"};
const hybridColor=bin=>(d3.bisectRight(chromStarts,bin)-1)%2===1?colors.dark:colors.light;
const cellBins=3;
const panels=[
 {name:panelNames[0],rows:gh2Rows,hi:gh2Hi,lo:gh2Lo,hybrid:gh2Hybrid,blue:gh2Blue,red:gh2Red,ticks:yTicksA,left:43,x0:77,top:13,bottom:261,dom:[-.34,7.34]},
 {name:panelNames[1],rows:ph4Rows,hi:ph4Hi,lo:ph4Lo,hybrid:ph4Hybrid,blue:ph4Blue,red:ph4Red,ticks:yTicksA,left:43,x0:77,top:268,bottom:517,dom:[-.34,7.37]},
 {name:panelNames[2],rows:sh4Rows,hi:sh4Hi,lo:sh4Lo,hybrid:sh4Hybrid,blue:sh4Blue,red:sh4Red,ticks:yTicksC,left:48,x0:82,top:525,bottom:773,dom:[-.73,15.73]}];
panels.forEach(p=>{
 const x=d3.scaleLinear().domain([0,688]).range([p.x0,765]);
 const y=d3.scaleLinear().domain(p.dom).range([p.bottom,p.top]);
 const g=svg.append("g");
 // cut each core row at the shared cells and the chromosome boundaries
 const pieces=[];
 p.rows.forEach(([a,b,kind,lo,hi])=>{
  const cuts=[a,b];
  for(let c=Math.ceil(a/cellBins)*cellBins;c<b;c+=cellBins)cuts.push(c);
  chromStarts.forEach(c=>{if(c>a&&c<b)cuts.push(c)});
  const s=Array.from(new Set(cuts)).sort(d3.ascending);
  d3.pairs(s).forEach(([u,v])=>{
   const i=Math.floor(u/cellBins);
   const l=lo!==undefined?lo:(p.lo[i]!==undefined?p.lo[i]:75)/100;
   const h=hi!==undefined?hi:(p.hi[i]!==undefined?p.hi[i]:125)/100;
   pieces.push({u,v,l,h,fill:kind==="h"?hybridColor(u):colors[kind]});
  });
 });
 g.append("g").attr("shape-rendering","crispEdges").selectAll("rect").data(pieces).join("rect")
  .attr("x",d=>x(d.u)).attr("width",d=>x(d.v)-x(d.u))
  .attr("y",d=>y(d.h)).attr("height",d=>y(d.l)-y(d.h)).attr("fill",d=>d.fill);
 const dots=(data,fill)=>g.append("g").selectAll("circle").data(data).join("circle")
  .attr("cx",d=>x(d[0])).attr("cy",d=>y(d[1])).attr("r",1.35).attr("fill",fill);
 dots(p.hybrid,d=>hybridColor(d[0]));
 dots(p.blue,colors.b);
 dots(p.red,colors.r);
 const ay=g.append("g").attr("transform",`translate(${p.left},0)`)
  .call(d3.axisLeft(y).tickValues(p.ticks).tickSize(2).tickPadding(2).tickFormat(d3.format("d")));
 ay.select(".domain").attr("stroke","#cfcfcf").attr("stroke-width",1.6);
 ay.selectAll(".tick line").attr("stroke","#888");
 ay.selectAll("text").attr("fill","#666").style("font-size","9.5px");
 ay.attr("font-family",null);
 const ax=g.append("g").attr("transform",`translate(0,${p.bottom})`)
  .call(d3.axisBottom(d3.scaleLinear().domain([0,1]).range([p.left,800])).tickValues([]).tickSize(0));
 ax.select(".domain").attr("stroke","#cfcfcf").attr("stroke-width",1.6);
 g.append("text").attr("x",798).attr("y",p.top+8).attr("text-anchor","end").attr("font-size",11).attr("fill","#333").text(p.name);
});
const gene=(t,x,y)=>svg.append("text").attr("x",x).attr("y",y).attr("font-style","italic").attr("font-size",15.8).attr("fill","#111").text(t);
gene(geneLabels[0],160,62);gene(geneLabels[1],487,398);gene(geneLabels[2],83,559);
const legendY=[29,52,76],legendFill=[colors.r,colors.b,colors.legendHybrid];
legendLabels.forEach((t,i)=>{
 svg.append("circle").attr("cx",594.5).attr("cy",legendY[i]).attr("r",5).attr("fill",legendFill[i]);
 svg.append("text").attr("x",607).attr("y",legendY[i]+8).attr("font-size",19).attr("font-style",i<2?"italic":"normal").attr("fill","#111").text(t);
});
svg.append("text").attr("transform","translate(20,384) rotate(-90)").attr("text-anchor","middle").attr("dominant-baseline","middle").attr("font-size",24.3).attr("fill","#111").text("Copy number");
svg.append("text").attr("x",398).attr("y",797).attr("text-anchor","middle").attr("font-size",24).attr("fill","#111").text("Genomic position");
</script></body></html>
